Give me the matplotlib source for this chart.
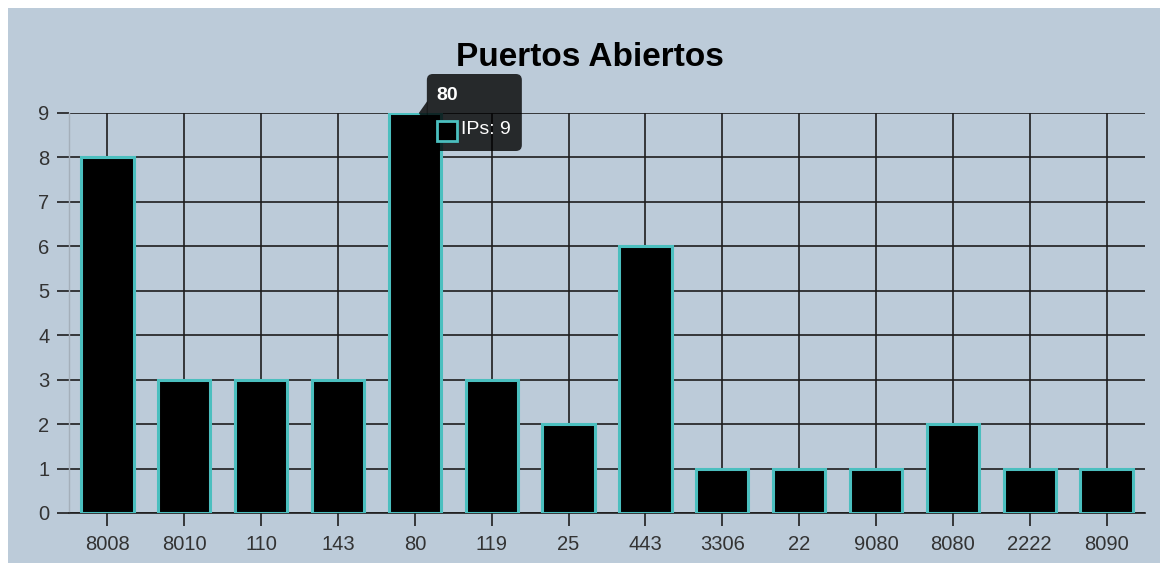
import matplotlib
matplotlib.use("Agg")
import matplotlib.pyplot as plt
from matplotlib.patches import FancyBboxPatch, Polygon, Rectangle
from matplotlib.transforms import IdentityTransform

plt.rcParams["font.family"] = ["Liberation Sans", "DejaVu Sans"]

ports = ["8008", "8010", "110", "143", "80", "119", "25", "443",
         "3306", "22", "9080", "8080", "2222", "8090"]
ip_counts = [8, 3, 3, 3, 9, 3, 2, 6, 1, 1, 1, 2, 1, 1]
series_label = "IPs"
hover_index = 4  # port 80

BG = "#bccbd9"
TEAL = "#4bbfbf"
GRID = "#1e1e1e"
TICK_TXT = "#333333"

W, H, DPI = 1160, 563, 100
fig = plt.figure(figsize=(W / DPI, H / DPI), dpi=DPI, facecolor="white")

# canvas background, offset by a thin white margin on the top/left
fig.patches.append(Rectangle((8 / W, 0), 1, (H - 8) / H, transform=fig.transFigure,
                             facecolor=BG, edgecolor="none", zorder=-10))

ax = fig.add_axes([69 / W, 50 / H, (1145 - 69) / W, 400 / H])
ax.set_facecolor("none")

x = range(len(ports))
ax.bar(x, ip_counts, width=0.68, color="black", edgecolor=TEAL, linewidth=2.2, zorder=3)

ax.set_xlim(-0.5, len(ports) - 0.5)
ax.set_ylim(0, 9)
ax.set_xticks(list(x))
ax.set_xticklabels(ports)
ax.set_yticks(range(10))

ax.grid(True, color=GRID, linewidth=1.2, zorder=0)
ax.set_axisbelow(True)
ax.tick_params(axis="both", length=9, width=1.2, color=GRID, labelsize=14.5,
               labelcolor=TICK_TXT, pad=5)
ax.tick_params(axis="x", pad=7)

for side in ("top", "right"):
    ax.spines[side].set_visible(False)
ax.spines["left"].set_color("#a4afba")
ax.spines["left"].set_linewidth(1)
ax.spines["bottom"].set_color(GRID)
ax.spines["bottom"].set_linewidth(1.2)

fig.text(590 / W, (H - 57) / H, "Puertos Abiertos", ha="center", va="center",
         fontsize=24, fontweight="bold", color="black")

# hover tooltip, laid out in pixels relative to the top of the highlighted bar
ax0, ay0 = ax.transData.transform((hover_index, ip_counts[hover_index]))
pix = IdentityTransform()

fig.patches.append(FancyBboxPatch((ax0 + 12, ay0 - 38), 95, 77,
                                  boxstyle="round,pad=0,rounding_size=6",
                                  transform=pix, facecolor="black", alpha=0.8,
                                  edgecolor="none", zorder=10))
fig.patches.append(Polygon([(ax0 + 12.5, ay0 + 12), (ax0 + 4, ay0), (ax0 + 12.5, ay0 - 12)],
                           closed=True, transform=pix, facecolor="black", alpha=0.8,
                           edgecolor="none", zorder=10))

fig.text(ax0 + 22, ay0 + 18, ports[hover_index], transform=pix, ha="left", va="center",
         fontsize=14, fontweight="bold", color="white", zorder=11)
fig.patches.append(Rectangle((ax0 + 22, ay0 - 28), 20, 20, transform=pix,
                             facecolor="black", edgecolor=TEAL, linewidth=2, zorder=11))
fig.text(ax0 + 46, ay0 - 17, f"{series_label}: {ip_counts[hover_index]}", transform=pix,
         ha="left", va="center", fontsize=14, color="white", zorder=11)

fig.savefig("out.png", dpi=DPI, facecolor="white")
